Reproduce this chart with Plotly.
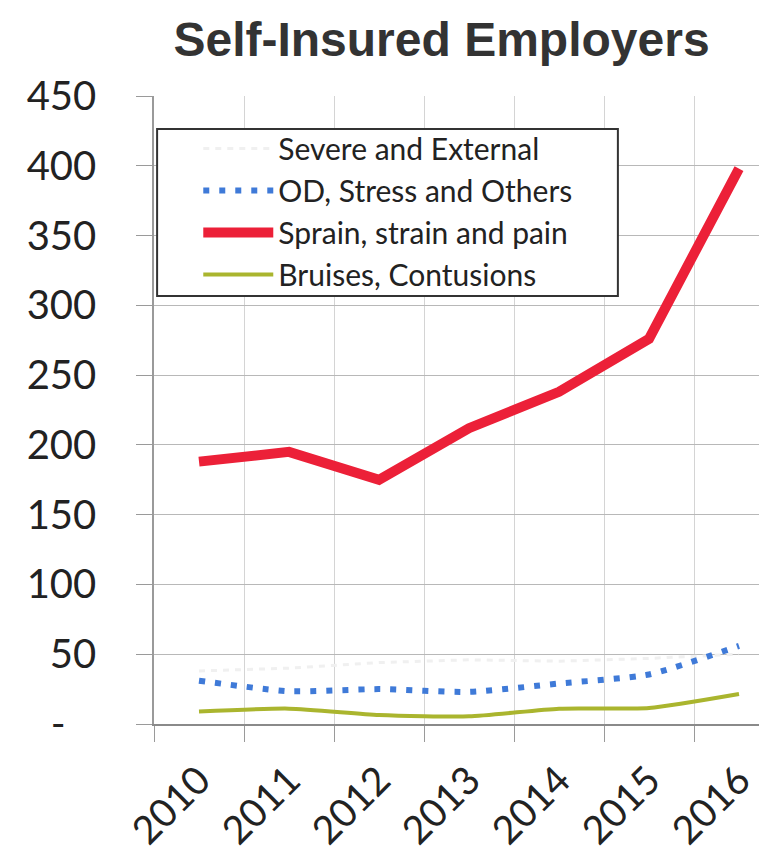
import plotly.graph_objects as go

years = ["2010", "2011", "2012", "2013", "2014", "2015", "2016"]
severe_external = [38, 40, 44, 46, 45, 47, 50]
od_stress_others = [31, 23.5, 25, 23, 29, 35.5, 56]
sprain_strain_pain = [188, 195, 175, 212, 238, 276, 398]
bruises_contusions = [9, 11, 6.5, 5.5, 11, 11.5, 21.5]

y_tickvals = [0, 50, 100, 150, 200, 250, 300, 350, 400, 450]
y_ticktext = ["-\u00a0\u00a0\u00a0", "50", "100", "150", "200", "250", "300", "350", "400", "450"]

FONT = "Lato"

fig = go.Figure()
fig.add_trace(go.Scatter(x=years, y=severe_external, name="Severe and External",
                         mode="lines", legendgroup="a",
                         line=dict(color="#f0f0f0", width=3, dash="6px,6px")))
fig.add_trace(go.Scatter(x=years, y=od_stress_others, name="OD, Stress and Others",
                         mode="lines", legendgroup="b",
                         line=dict(color="#3f7ad8", width=6, dash="6px,10px",
                                   shape="spline", smoothing=0.6)))
fig.add_trace(go.Scatter(x=years, y=sprain_strain_pain, name="Sprain, strain and pain",
                         mode="lines", legendgroup="c",
                         line=dict(color="#ec2038", width=10)))
fig.add_trace(go.Scatter(x=years, y=bruises_contusions, name="Bruises, Contusions",
                         mode="lines", legendgroup="d",
                         line=dict(color="#aab52e", width=4, shape="spline", smoothing=0.6)))

# legend frame (white box with dark border)
fig.add_shape(type="rect", xref="paper", yref="paper",
              x0=0.005, x1=0.747, y0=0.6815, y1=0.9475,
              line=dict(color="#333333", width=2), fillcolor="white", layer="above")

fig.update_layout(
    width=767, height=855,
    margin=dict(l=146, r=0, t=88, b=139),
    paper_bgcolor="white", plot_bgcolor="white",
    title=dict(text="<b>Self-Insured Employers</b>", x=0.5652, xanchor="center",
               y=1 - 31 / 855, yanchor="middle", yref="container",
               font=dict(family="Liberation Sans, Arial", size=48, color="#333333")),
    legend=dict(x=0.0713, y=0.958, xanchor="left", yanchor="top",
                bgcolor="rgba(0,0,0,0)", borderwidth=0,
                font=dict(family=FONT, size=30, color="#222222"),
                itemwidth=70, traceorder="grouped", tracegroupgap=0),
    showlegend=True,
)
fig.update_xaxes(type="category", categoryorder="array", categoryarray=years,
                 range=[-0.5, 6.4], tickson="boundaries", ticks="outside", ticklen=16,
                 tickcolor="#9a9a9a", showgrid=True, gridcolor="#d4d4d4", gridwidth=1,
                 showline=True, linecolor="#8a8a8a", linewidth=1.5, automargin=False,
                 ticklabelstandoff=16,
                 tickangle=-45, tickfont=dict(family=FONT, size=39, color="#222222"))
fig.update_yaxes(range=[0, 450], tickvals=y_tickvals, ticktext=y_ticktext,
                 ticks="outside", ticklen=16, tickcolor="#9a9a9a",
                 showgrid=True, gridcolor="#b8b8b8", gridwidth=1.2, zeroline=False,
                 showline=True, linecolor="#9a9a9a", linewidth=1.5, automargin=False,
                 ticklabelstandoff=32,
                 tickfont=dict(family=FONT, size=40, color="#222222"))

fig.write_html("out.html")
